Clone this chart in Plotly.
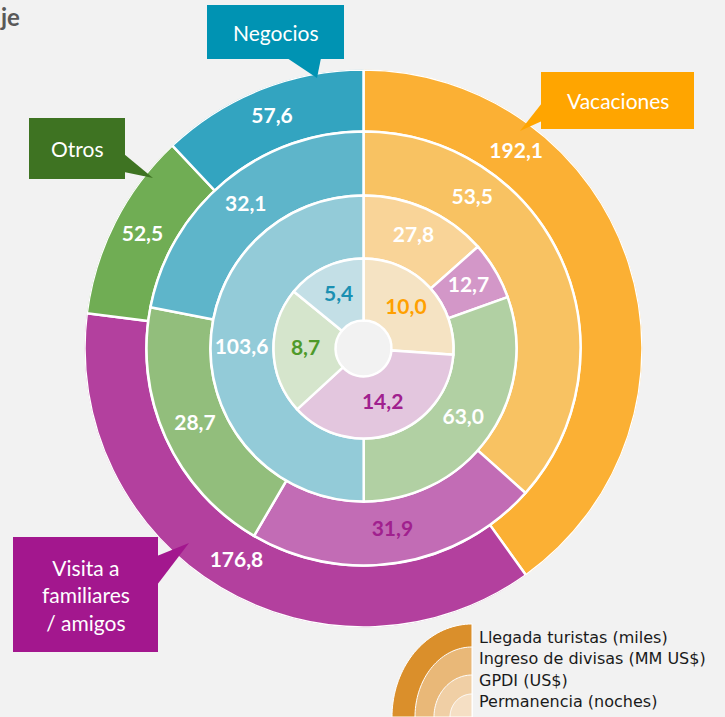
import numpy as np
import plotly.graph_objects as go

W, H = 725, 717
BG = "#f2f2f2"

categorias = ["Vacaciones", "Visita a familiares / amigos", "Otros", "Negocios"]
llegada = [192.1, 176.8, 52.5, 57.6]       # Llegada turistas (miles)
ingreso = [53.5, 31.9, 28.7, 32.1]          # Ingreso de divisas (MM US$)
gpdi = [27.8, 12.7, 63.0, 103.6]            # GPDI (US$)
permanencia = [10.0, 14.2, 8.7, 5.4]        # Permanencia (noches)
anillos = ["Llegada turistas (miles)", "Ingreso de divisas (MM US$)",
           "GPDI (US$)", "Permanencia (noches)"]

# colores por anillo (de fuera hacia dentro)
colores = [
    ["#fbb034", "#b3409e", "#70ad54", "#33a4c0"],
    ["#f8c262", "#c26cb5", "#92be7c", "#5eb5ca"],
    ["#f9d498", "#d397c8", "#b1d0a3", "#93cbd8"],
    ["#f5e3c3", "#e3c6de", "#d5e5cc", "#c3dfe6"],
]
colores_texto = [
    ["white"] * 4,
    ["white", "#a0208e", "white", "white"],
    ["white"] * 4,
    ["#ffa000", "#a0208e", "#4e9a2a", "#1a90b2"],
]

# geometría en px
cx, cy = 363.5, 348.5
radios = [279, 217, 153, 90, 28]
r_texto = [248, 185, 122, 58]
ajuste_angulo = {(0, 0): 38, (1, 0): 36}   # etiquetas de Vacaciones desplazadas

fig = go.Figure()

for k, valores in enumerate([llegada, ingreso, gpdi, permanencia]):
    v = np.array(valores)
    ancho = v / v.sum() * 360
    inicio = np.cumsum(ancho) - ancho
    medio = inicio + ancho / 2
    base = radios[k + 1]
    fig.add_trace(go.Barpolar(
        r=[radios[k] - base] * 4, base=[base] * 4,
        theta=medio, width=ancho,
        marker=dict(color=colores[k], line=dict(color="white", width=2.5)),
        name=anillos[k], hoverinfo="skip", showlegend=False,
    ))
    th = [ajuste_angulo.get((k, i), medio[i]) for i in range(4)]
    fig.add_trace(go.Scatterpolar(
        r=[r_texto[k]] * 4, theta=th, mode="text",
        text=[f"{x:.1f}".replace(".", ",") for x in valores],
        textfont=dict(family="Lato", size=21, weight="bold", color=colores_texto[k]),
        hoverinfo="skip", showlegend=False,
    ))

fig.update_layout(
    width=W, height=H,
    margin=dict(l=0, r=0, t=0, b=0),
    paper_bgcolor=BG, plot_bgcolor=BG,
    polar=dict(
        domain=dict(x=[(cx - radios[0]) / W, (cx + radios[0]) / W],
                    y=[1 - (cy + radios[0]) / H, 1 - (cy - radios[0]) / H]),
        bgcolor=BG, bargap=0,
        radialaxis=dict(visible=False, range=[0, radios[0]]),
        angularaxis=dict(visible=False, rotation=90, direction="clockwise"),
    ),
)


def px(x, y):
    return x / W, 1 - y / H


def poly(pts):
    s = "M " + " L ".join(f"{px(x, y)[0]:.5f},{px(x, y)[1]:.5f}" for x, y in pts)
    return s + " Z"


shapes = []
annots = []

# globos de categorías: caja, cola, texto
globos = [
    ("Negocios", "#0093b3", (207, 5, 344, 59), [(287, 58), (321, 58), (317, 78)]),
    ("Vacaciones", "#ffa500", (541, 72, 694, 129), [(542, 103), (542, 121), (520, 131)]),
    ("Otros", "#3e7322", (29, 118, 125, 179), [(124, 154), (124, 172), (153, 178)]),
    ("Visita a<br>familiares<br>/ amigos", "#a3178e", (13, 537, 158, 652),
     [(157, 556), (157, 585), (189, 543)]),
]
for texto, col, (x0, y0, x1, y1), cola in globos:
    a0, b0 = px(x0, y1)
    a1, b1 = px(x1, y0)
    shapes.append(dict(type="rect", xref="paper", yref="paper", x0=a0, y0=b0, x1=a1, y1=b1,
                       fillcolor=col, line=dict(width=0)))
    shapes.append(dict(type="path", xref="paper", yref="paper", path=poly(cola),
                       fillcolor=col, line=dict(width=0)))
    tx, ty = px((x0 + x1) / 2, (y0 + y1) / 2)
    annots.append(dict(x=tx, y=ty, xref="paper", yref="paper", text=texto, showarrow=False,
                       font=dict(family="Lato", size=21, color="white"),
                       xanchor="center", yanchor="middle"))

# leyenda de anillos (cuartos de elipse)
lx, ly = 472, 717
ley_radios = [(80, 93), (57, 70), (38, 42), (22, 23)]
ley_colores = ["#da8f2b", "#e9b878", "#f0cfa5", "#f5dfc4"]
t = np.linspace(np.pi, 1.5 * np.pi, 40)
for (rx, ry), col in zip(ley_radios, ley_colores):
    pts = [(lx, ly)] + [(lx + rx * np.cos(a), ly + ry * np.sin(a)) for a in t]
    shapes.append(dict(type="path", xref="paper", yref="paper", path=poly(pts),
                       fillcolor=col, line=dict(color="white", width=1)))
for i, nombre in enumerate(anillos):
    tx, ty = px(477, 637 + i * 21.5)
    annots.append(dict(x=tx, y=ty, xref="paper", yref="paper", text=nombre, showarrow=False,
                       font=dict(family="DejaVu Sans", size=16, color="#1a1a1a"),
                       xanchor="left", yanchor="middle"))

# resto del título cortado
annots.append(dict(x=px(-2, 0)[0], y=px(0, 0)[1], xref="paper", yref="paper", text="<b>je</b>",
                   showarrow=False, font=dict(family="Lato", size=24, color="#595959"),
                   xanchor="left", yanchor="top"))

fig.update_layout(shapes=shapes, annotations=annots)
fig.write_html("out.html", config={"displayModeBar": False},
               post_script="document.body.style.margin='0';")
